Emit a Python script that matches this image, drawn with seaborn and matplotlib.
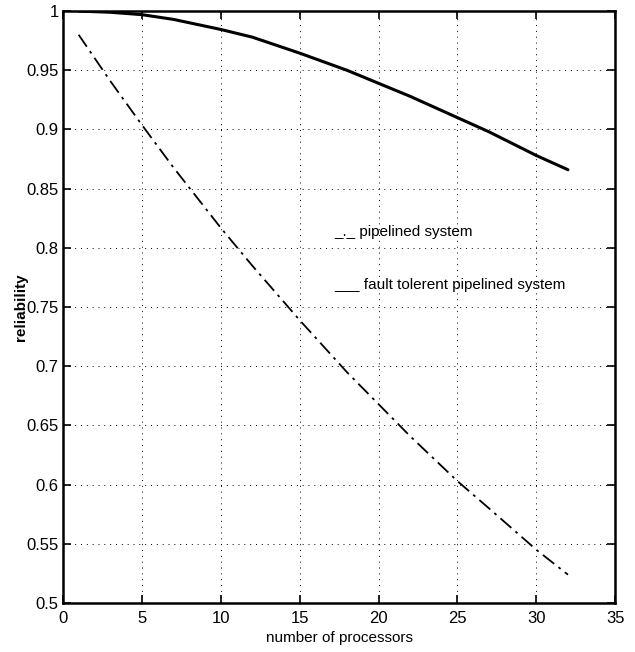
import seaborn as sns
import pandas as pd
from matplotlib import pyplot as plt

processors = [1, 3, 5, 7, 10, 12, 15, 18, 20, 22, 25, 27, 30, 32]
pipelined = [0.980, 0.941, 0.904, 0.868, 0.817, 0.785, 0.739, 0.695, 0.668, 0.641, 0.603, 0.580, 0.545, 0.524]
fault_tolerant = [1.000, 0.999, 0.997, 0.993, 0.9845, 0.978, 0.9645, 0.950, 0.939, 0.928, 0.910, 0.898, 0.878, 0.866]
x_ticks = [0, 5, 10, 15, 20, 25, 30, 35]
y_ticks = [0.5, 0.55, 0.6, 0.65, 0.7, 0.75, 0.8, 0.85, 0.9, 0.95, 1]
y_tick_labels = ["0.5", "0.55", "0.6", "0.65", "0.7", "0.75", "0.8", "0.85", "0.9", "0.95", "1"]

sns.set_style("ticks")
plt.rcParams["font.family"] = ["Liberation Sans", "DejaVu Sans"]
plt.rcParams["text.color"] = "black"
plt.rcParams["axes.labelcolor"] = "black"
plt.rcParams["xtick.color"] = "black"
plt.rcParams["ytick.color"] = "black"

df = pd.DataFrame({"n": processors, "pipe": pipelined, "ft": fault_tolerant})

fig = plt.figure(figsize=(6.35, 6.52), dpi=100)
ax = fig.add_axes([0.099, 0.075, 0.87, 0.908])

sns.lineplot(data=df, x="n", y="pipe", ax=ax, color="black", linewidth=1.3,
             linestyle=(0, (8, 3, 1.5, 3)))
sns.lineplot(data=df, x="n", y="ft", ax=ax, color="black", linewidth=2.2)

ax.set_xlim(0, 35)
ax.set_ylim(0.5, 1)
ax.set_xticks(x_ticks)
ax.set_yticks(y_ticks)
ax.set_yticklabels(y_tick_labels)
ax.grid(True, linestyle=(0, (1, 5)), color="black", linewidth=0.7)
ax.tick_params(direction="in", top=True, right=True, length=6, width=1.2,
               labelsize=12, pad=3)
ax.tick_params(axis="x", pad=6)
for s in ax.spines.values():
    s.set_linewidth(1.8)
    s.set_color("black")
    s.set_visible(True)

ax.set_xlabel("number of processors", fontsize=11, labelpad=3)
ax.set_ylabel("reliability", fontsize=11, fontweight="bold", labelpad=-1)

ax.text(17.2, 0.813, "_._ pipelined system", fontsize=11, va="center")
ax.text(17.2, 0.769, "___ fault tolerent pipelined system", fontsize=11, va="center")

fig.savefig("out.png", dpi=100)
